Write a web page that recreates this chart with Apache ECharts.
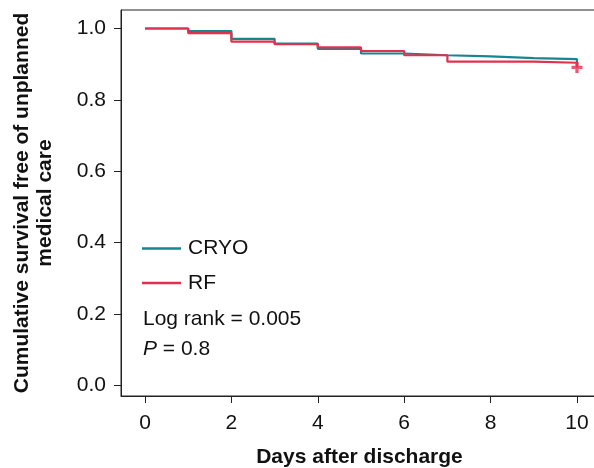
<!DOCTYPE html>
<html>
<head>
<meta charset="utf-8">
<script src="https://cdn.jsdelivr.net/npm/echarts@6/dist/echarts.min.js"></script>
<style>
  html, body { margin: 0; padding: 0; background: #fff; }
  #chart { width: 594px; height: 468px; }
</style>
</head>
<body>
<div id="chart"></div>
<script>
// days after discharge
var days = [0, 1, 2, 3, 4, 5, 6, 7, 8, 9, 10];
// survival estimates (step values start at each day)
var cryo = [1.0, 0.993, 0.971, 0.958, 0.943, 0.930, 0.925, 0.922, 0.917, 0.914, 0.894];
var rf = [1.0, 0.987, 0.963, 0.956, 0.947, 0.937, 0.925, 0.907, 0.907, 0.904, 0.891];
// censored mark
var censorRF = [[10, 0.891]];
var xTicks = [0, 2, 4, 6, 8, 10];
var yTicks = [0, 0.2, 0.4, 0.6, 0.8, 1.0];

var font = "Arial, 'Liberation Sans', sans-serif";
var tealColor = "#16868f";
var redColor = "#e2304f";
var fs = 21;

function pairs(xs, ys) {
  return xs.map(function (x, i) { return [x, ys[i]]; });
}

var myChart = echarts.init(document.getElementById("chart"));

var option = {
  animation: false,
  backgroundColor: "#fff",
  grid: {
    left: 121,
    right: -4,
    top: 10,
    bottom: 72,
    containLabel: false,
    outerBoundsMode: "none",
    show: true,
    borderColor: "#222",
    borderWidth: 1
  },
  xAxis: {
    type: "value",
    min: -0.5556,
    max: 10.486,
    name: "Days after discharge",
    nameLocation: "middle",
    nameGap: 51,
    nameTextStyle: { fontFamily: font, fontSize: fs, fontWeight: "bold", color: "#111" },
    axisLine: { show: true, onZero: false, lineStyle: { color: "#222", width: 1 } },
    axisTick: { show: true, inside: false, length: 7, customValues: xTicks, lineStyle: { color: "#222" } },
    axisLabel: {
      customValues: xTicks,
      margin: 17,
      fontFamily: font,
      fontSize: fs,
      color: "#111"
    },
    splitLine: { show: false }
  },
  yAxis: {
    type: "value",
    min: -0.0294,
    max: 1.0518,
    name: "Cumulative survival free of unplanned\nmedical care",
    nameLocation: "middle",
    nameRotate: 90,
    nameGap: 64,
    nameTextStyle: { fontFamily: font, fontSize: fs, fontWeight: "bold", color: "#111", lineHeight: 23, align: "center" },
    axisLine: { show: true, onZero: false, lineStyle: { color: "#222", width: 1 } },
    axisTick: { show: true, inside: false, length: 7, customValues: yTicks, lineStyle: { color: "#222" } },
    axisLabel: {
      customValues: yTicks,
      margin: 15,
      fontFamily: font,
      fontSize: fs,
      color: "#111",
      formatter: function (v) { return v.toFixed(1); }
    },
    splitLine: { show: false }
  },
  legend: {
    data: [
      { name: "CRYO", icon: "rect", itemStyle: { color: tealColor } },
      { name: "RF", icon: "rect", itemStyle: { color: redColor } }
    ],
    orient: "vertical",
    left: 142,
    top: 238,
    padding: 0,
    itemWidth: 39,
    itemHeight: 2.5,
    itemGap: 13.4,
    textStyle: { fontFamily: font, fontSize: fs, lineHeight: 21, color: "#111", padding: [0, 0, 0, 2] }
  },
  graphic: [
    {
      type: "text",
      x: 143,
      y: 319,
      style: { text: "Log rank = 0.005", font: fs + "px " + font, fill: "#111", verticalAlign: "middle" }
    },
    {
      type: "text",
      x: 143,
      y: 349,
      style: {
        text: "{i|P} = 0.8",
        font: fs + "px " + font,
        fill: "#111",
        verticalAlign: "middle",
        rich: { i: { font: "italic " + fs + "px " + font, fill: "#111" } }
      }
    }
  ],
  series: [
    {
      name: "CRYO",
      type: "line",
      step: "end",
      symbol: "none",
      data: pairs(days, cryo),
      lineStyle: { color: tealColor, width: 2.2 },
      itemStyle: { color: tealColor }
    },
    {
      name: "RF",
      type: "line",
      step: "end",
      symbol: "none",
      data: pairs(days, rf),
      lineStyle: { color: redColor, width: 2.2 },
      itemStyle: { color: redColor }
    },
    {
      name: "censor",
      type: "scatter",
      data: censorRF,
      symbol: "path://M3.5,0H6.5V3.5H10V6.5H6.5V10H3.5V6.5H0V3.5H3.5Z",
      symbolSize: 11,
      itemStyle: { color: redColor },
      silent: true
    }
  ]
};

myChart.setOption(option);
</script>
</body>
</html>
